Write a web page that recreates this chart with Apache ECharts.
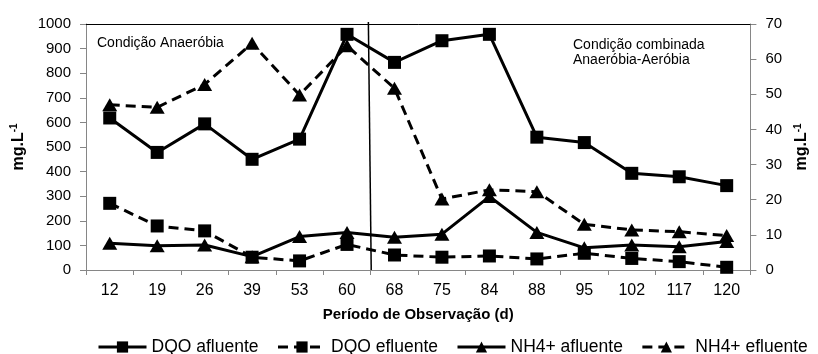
<!DOCTYPE html>
<html>
<head>
<meta charset="utf-8">
<script src="https://cdn.jsdelivr.net/npm/echarts@6/dist/echarts.min.js"></script>
<style>
  html, body { margin: 0; padding: 0; background: #fff; }
  #chart { width: 818px; height: 354px; }
</style>
</head>
<body>
<div id="chart"></div>
<script>
// Observation days (category axis)
const days = ['12', '19', '26', '39', '53', '60', '68', '75', '84', '88', '95', '102', '117', '120'];

// COD (DQO) in mg/L – left axis
const dqoAfluente = [618, 478, 594, 450, 532, 958, 844, 932, 958, 540, 518, 393, 379, 343];
const dqoEfluente = [271, 179, 159, 52, 37, 104, 61, 52, 57, 45, 68, 47, 34, 11];

// NH4+ in mg/L – right axis
const nh4Afluente = [7.6, 6.9, 7.1, 3.8, 9.5, 10.7, 9.3, 10.2, 20.9, 10.7, 6.3, 7.1, 6.6, 8.1];
const nh4Efluente = [47.0, 46.3, 52.8, 64.5, 49.8, 63.8, 51.7, 20.2, 22.8, 22.3, 13.0, 11.4, 10.9, 9.8];

// Divider between the anaerobic phase and the combined phase (category-position, mg/L)
const dividerLine = [[5.95, 1008], [6.01, 0]];

const FONT = 'Arial, "Liberation Sans", sans-serif';
const AXIS_GREY = '#868686';

const chart = echarts.init(document.getElementById('chart'), null, { renderer: 'canvas' });

const nameRich = {
  a: { fontFamily: FONT, fontWeight: 'bold', fontSize: 16, color: '#000' },
  b: { fontFamily: FONT, fontWeight: 'bold', fontSize: 10, color: '#000', verticalAlign: 'top', padding: [0, 0, 8, 0] }
};

const solid = { color: '#000', width: 3, type: 'solid' };
const dashed = { color: '#000', width: 3, type: [10, 6] };
const plain = (v) => String(v);

chart.setOption({
  animation: false,
  backgroundColor: '#fff',
  grid: { left: 86, right: 66, top: 24, bottom: 84, containLabel: false },
  legend: {
    data: ['DQO afluente', 'DQO efluente', 'NH4+ afluente', 'NH4+ efluente'],
    left: 97,
    top: 338,
    padding: 0,
    itemWidth: 48,
    itemHeight: 14,
    itemGap: 18,
    lineStyle: { width: 3 },
    textStyle: { fontFamily: FONT, fontSize: 17.5, color: '#000' }
  },
  xAxis: [
    {
      type: 'category',
      data: days,
      boundaryGap: true,
      name: 'Período de Observação (d)',
      nameLocation: 'middle',
      nameGap: 37,
      nameTextStyle: { fontFamily: FONT, fontWeight: 'bold', fontSize: 15, color: '#000' },
      axisLine: { lineStyle: { color: AXIS_GREY, width: 1 } },
      axisTick: { show: true, length: 5, alignWithLabel: false, lineStyle: { color: AXIS_GREY } },
      axisLabel: { fontFamily: FONT, fontSize: 16, color: '#000', margin: 13, interval: 0 },
      splitLine: { show: false }
    },
    {
      type: 'value',
      position: 'top',
      min: 0,
      max: 14,
      axisLine: { show: true, onZero: false, lineStyle: { color: '#000', width: 1 } },
      axisTick: { show: false },
      axisLabel: { show: false },
      splitLine: { show: false }
    }
  ],
  yAxis: [
    {
      type: 'value',
      min: 0,
      max: 1000,
      interval: 100,
      position: 'left',
      name: '{a|mg.L}{b|-1}',
      nameLocation: 'middle',
      nameRotate: 90,
      nameGap: 58,
      nameTextStyle: { rich: nameRich },
      axisLine: { show: true, lineStyle: { color: AXIS_GREY, width: 1 } },
      axisTick: { show: true, length: 6, lineStyle: { color: AXIS_GREY } },
      axisLabel: { fontFamily: FONT, fontSize: 15, color: '#000', margin: 15, formatter: plain },
      splitLine: { show: false }
    },
    {
      type: 'value',
      min: 0,
      max: 70,
      interval: 10,
      position: 'right',
      name: '{a|mg.L}{b|-1}',
      nameLocation: 'middle',
      nameRotate: 90,
      nameGap: 40,
      nameTextStyle: { rich: nameRich },
      axisLine: { show: true, lineStyle: { color: AXIS_GREY, width: 1 } },
      axisTick: { show: true, length: 6, lineStyle: { color: AXIS_GREY } },
      axisLabel: { fontFamily: FONT, fontSize: 15, color: '#000', margin: 15, formatter: plain },
      splitLine: { show: false }
    }
  ],
  graphic: [
    {
      type: 'text', left: 97, top: 36,
      style: { text: 'Condição Anaeróbia', font: '14px ' + FONT, fill: '#000' }
    },
    {
      type: 'text', left: 573, top: 38,
      style: { text: 'Condição combinada\nAnaeróbia-Aeróbia', font: '14px ' + FONT, fill: '#000', lineHeight: 15 }
    }
  ],
  series: [
    {
      name: 'DQO afluente', type: 'line', xAxisIndex: 0, yAxisIndex: 0,
      data: dqoAfluente, symbol: 'rect', symbolSize: 13,
      lineStyle: solid, itemStyle: { color: '#000' }, z: 3
    },
    {
      name: 'DQO efluente', type: 'line', xAxisIndex: 0, yAxisIndex: 0,
      data: dqoEfluente, symbol: 'rect', symbolSize: 13,
      lineStyle: dashed, itemStyle: { color: '#000' }, z: 3
    },
    {
      name: 'NH4+ afluente', type: 'line', xAxisIndex: 0, yAxisIndex: 1,
      data: nh4Afluente, symbol: 'triangle', symbolSize: [15, 13],
      lineStyle: solid, itemStyle: { color: '#000' }, z: 3
    },
    {
      name: 'NH4+ efluente', type: 'line', xAxisIndex: 0, yAxisIndex: 1,
      data: nh4Efluente, symbol: 'triangle', symbolSize: [15, 13],
      lineStyle: dashed, itemStyle: { color: '#000' }, z: 3
    },
    {
      name: 'divisor', type: 'line', xAxisIndex: 1, yAxisIndex: 0,
      data: dividerLine, symbol: 'none', clip: false, silent: true,
      lineStyle: { color: '#000', width: 1.5 }, z: 2
    }
  ]
});
</script>
</body>
</html>
